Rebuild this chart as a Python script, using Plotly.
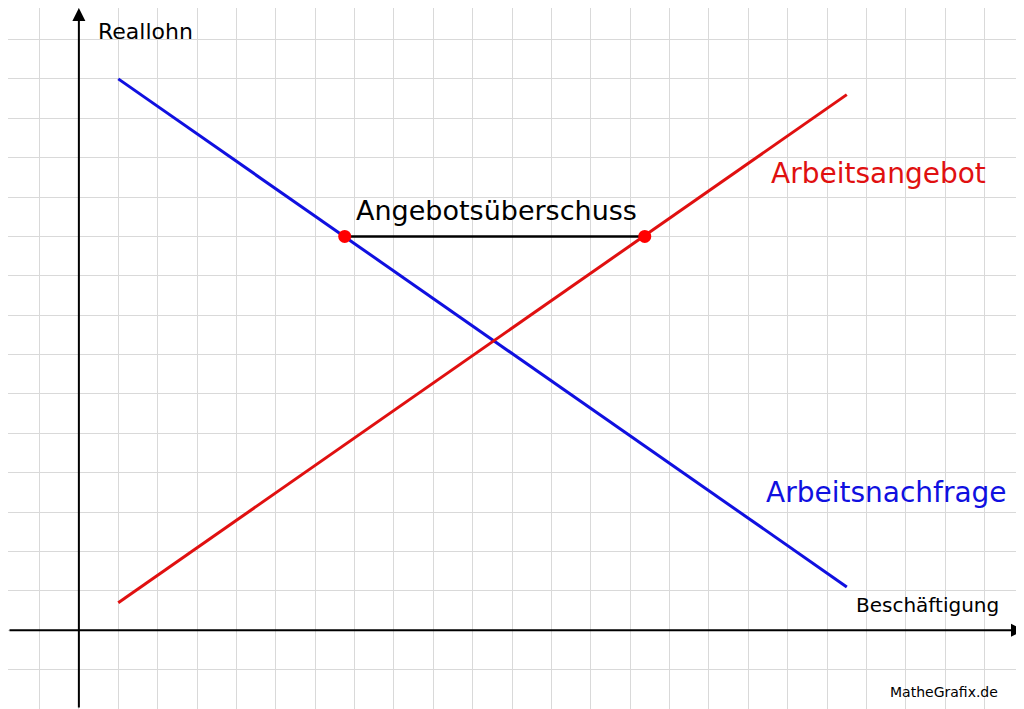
import plotly.graph_objects as go

# grid units: origin at the axes crossing, one unit = one grid cell
nachfrage_x = [1, 19.5]
nachfrage_y = [14.0, 1.1]
angebot_x = [1, 19.5]
angebot_y = [0.7, 13.6]
ueberschuss_x = [6.75, 14.37]
ueberschuss_y = [10.0, 10.0]

fig = go.Figure()
fig.add_trace(go.Scatter(x=ueberschuss_x, y=ueberschuss_y, mode='lines',
                         line=dict(color='black', width=2.5)))
fig.add_trace(go.Scatter(x=nachfrage_x, y=nachfrage_y, mode='lines',
                         line=dict(color='#1010e0', width=3)))
fig.add_trace(go.Scatter(x=angebot_x, y=angebot_y, mode='lines',
                         line=dict(color='#e01010', width=3)))
fig.add_trace(go.Scatter(x=ueberschuss_x, y=ueberschuss_y, mode='markers',
                         marker=dict(color='#ff0000', size=13)))

# axes with arrows
fig.add_annotation(x=24, y=0, ax=-1.8, ay=0, xref='x', yref='y', axref='x', ayref='y',
                   showarrow=True, arrowhead=2, arrowsize=1.3, arrowwidth=2, arrowcolor='black', text='')
fig.add_annotation(x=0, y=15.8, ax=0, ay=-2, xref='x', yref='y', axref='x', ayref='y',
                   showarrow=True, arrowhead=2, arrowsize=1.3, arrowwidth=2, arrowcolor='black', text='')

font = 'DejaVu Sans, Verdana, sans-serif'
labels = [
    (1.7, 15.2, 'Reallohn', 'black', 22),
    (20.3, 11.6, 'Arbeitsangebot', '#e01010', 28),
    (20.5, 3.5, 'Arbeitsnachfrage', '#1010e0', 28),
    (10.6, 10.65, 'Angebotsüberschuss', 'black', 27),
    (21.55, 0.65, 'Beschäftigung', 'black', 20),
    (21.98, -1.58, 'MatheGrafix.de', 'black', 14),
]
for x, y, t, c, s in labels:
    fig.add_annotation(x=x, y=y, text=t, showarrow=False,
                       font=dict(color=c, size=s, family=font))

# page has an 8px body margin, so the figure starts at 8,8
grid = dict(range=[-1.8, 24], dtick=1, showgrid=True, gridcolor='#d9d9d9', gridwidth=1,
            zeroline=False, showticklabels=False, ticks='', fixedrange=True)
fig.update_layout(
    width=1016, height=701, margin=dict(l=0, r=0, t=0, b=0),
    plot_bgcolor='white', paper_bgcolor='white', showlegend=False,
    xaxis=grid,
    yaxis=dict(grid, range=[-2, 15.8]),
)
fig.write_html("out.html")
